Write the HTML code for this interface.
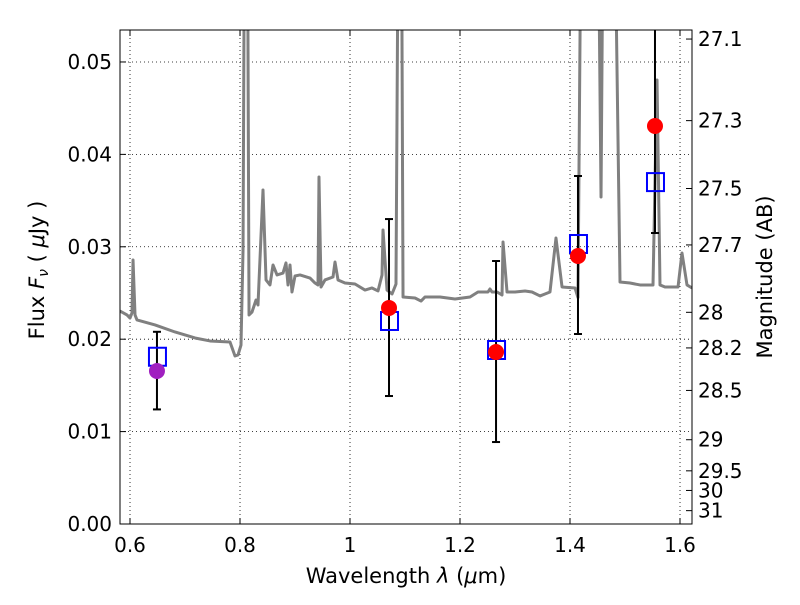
<!DOCTYPE html>
<html><head><meta charset="utf-8"><style>
body{margin:0;background:#fff;}
svg{font-family:"DejaVu Sans","Liberation Sans",sans-serif;}
</style></head><body>
<svg id="c" width="800" height="600"></svg>
<script>
const specLam=[0.5818,0.5945,0.6,0.6036,0.6055,0.6091,0.6127,0.6455,0.6818,0.7182,0.7455,0.7818,0.7909,0.7964,0.8018,0.8055,0.8091,0.8127,0.8164,0.8218,0.8291,0.8327,0.8418,0.8473,0.8545,0.86,0.8673,0.8782,0.8836,0.8873,0.8909,0.8945,0.9,0.9091,0.9273,0.9364,0.9418,0.9436,0.9473,0.9545,0.9691,0.9727,0.9782,0.9909,1.0091,1.0273,1.04,1.0509,1.0582,1.06,1.0673,1.0764,1.0836,1.0891,1.0927,1.0964,1.1182,1.1291,1.1364,1.1636,1.1909,1.2182,1.2327,1.2509,1.2545,1.2582,1.2673,1.2764,1.2782,1.2855,1.3,1.3182,1.3309,1.3455,1.3545,1.3636,1.3745,1.3855,1.4091,1.4145,1.4218,1.4491,1.4564,1.4618,1.4782,1.4909,1.5091,1.5273,1.5509,1.5582,1.5636,1.5727,1.5964,1.6036,1.6127,1.6218];
const specFlux=[0.02305,0.02262,0.02229,0.02284,0.02857,0.02262,0.02208,0.02154,0.02078,0.02013,0.01981,0.0197,0.01818,0.01829,0.01937,0.02965,0.08,0.08,0.02262,0.02294,0.02424,0.0237,0.03615,0.02641,0.02587,0.02803,0.02695,0.02716,0.02825,0.02587,0.02803,0.02511,0.02684,0.02695,0.02662,0.02608,0.02587,0.03755,0.02565,0.02641,0.02673,0.02835,0.02641,0.02608,0.02597,0.02532,0.02554,0.02522,0.02695,0.03182,0.02532,0.02489,0.02597,0.08,0.08,0.02457,0.02446,0.02413,0.02457,0.02457,0.02435,0.02457,0.02511,0.02511,0.02543,0.02511,0.02511,0.02478,0.03052,0.0251,0.02511,0.02522,0.02511,0.02468,0.02489,0.02511,0.03095,0.02565,0.02554,0.0245,0.08,0.08,0.03539,0.08,0.08,0.02619,0.02608,0.02587,0.02587,0.04805,0.02587,0.02565,0.02565,0.02933,0.02587,0.02554];
const obsLam=[0.649,1.0709,1.2655,1.4145,1.5545];
const obsFlux=[0.01656,0.02338,0.01861,0.0290,0.04307];
const errHi=[0.0208,0.0330,0.02846,0.03766,0.0545];
const errLo=[0.0124,0.01385,0.00887,0.02056,0.03149];
const modFlux=[0.0181,0.02197,0.01883,0.0303,0.0370];
const obsColor=['#a020c0','red','red','red','red'];
const xTicks=[0.6,0.8,1.0,1.2,1.4,1.6];
const xTickLabels=['0.6','0.8','1','1.2','1.4','1.6'];
const yTicks=[0,0.01,0.02,0.03,0.04,0.05];
const yTickLabels=['0.00','0.01','0.02','0.03','0.04','0.05'];
const magTicks=[27.1,27.3,27.5,27.7,28,28.2,28.5,29,29.5,30,31];
const magLabels=['27.1','27.3','27.5','27.7','28','28.2','28.5','29','29.5','30','31'];

const L=120,R=692,T=30,B=524,x0=0.5818,x1=1.6218,y0=0,y1=0.05346;
const X=v=>L+(v-x0)/(x1-x0)*(R-L);
const Y=v=>B-(v-y0)/(y1-y0)*(B-T);
const svg=document.getElementById('c');const NS='http://www.w3.org/2000/svg';
function mk(t,a,p){const e=document.createElementNS(NS,t);for(const k in a)e.setAttribute(k,a[k]);(p||svg).appendChild(e);return e;}
const defs=mk('defs',{});const cp=mk('clipPath',{id:'pc'},defs);mk('rect',{x:L,y:T,width:R-L,height:B-T},cp);
xTicks.forEach((v,i)=>{const g=mk('line',{x1:X(v),x2:X(v),y1:T,y2:B,stroke:'#000','stroke-width':0.8,'stroke-dasharray':'1,3'});

mk('line',{x1:X(v),x2:X(v),y1:B,y2:B-6,stroke:'#000'});mk('line',{x1:X(v),x2:X(v),y1:T,y2:T+6,stroke:'#000'});
const t=mk('text',{x:X(v),y:B+28,'text-anchor':'middle','font-size':20});t.textContent=xTickLabels[i];
});
yTicks.forEach((v,i)=>{const g=mk('line',{x1:L,x2:R,y1:Y(v),y2:Y(v),stroke:'#000','stroke-width':0.8,'stroke-dasharray':'1,3'});

mk('line',{x1:L,x2:L+6,y1:Y(v),y2:Y(v),stroke:'#000'});
const t=mk('text',{x:L-8,y:Y(v)+7,'text-anchor':'end','font-size':20});t.textContent=yTickLabels[i];
});
magTicks.forEach((m,i)=>{const f=Math.pow(10,(23.9-m)/2.5);const y=Y(f);
mk('line',{x1:R,x2:R-6,y1:y,y2:y,stroke:'#000'});
const t=mk('text',{x:R+6,y:y+7,'font-size':20});t.textContent=magLabels[i];
});
const g=mk('g',{'clip-path':'url(#pc)'});
const sp=mk('polyline',{points:specLam.map((l,i)=>X(l)+','+Y(specFlux[i])).join(' '),fill:'none',stroke:'#808080','stroke-width':3,'stroke-linejoin':'round'},g);

obsLam.forEach((l,i)=>{const x=X(l);
const e=mk('line',{x1:x,x2:x,y1:Y(errHi[i]),y2:Y(errLo[i]),stroke:'#000','stroke-width':2},g);

[errHi[i],errLo[i]].forEach(v=>mk('line',{x1:x-4,x2:x+4,y1:Y(v),y2:Y(v),stroke:'#000','stroke-width':2},g));
const s=mk('rect',{x:x-8,y:Y(modFlux[i])-9,width:17,height:18,fill:'none',stroke:'blue','stroke-width':2},g);

const c=mk('circle',{cx:x,cy:Y(obsFlux[i]),r:8,fill:obsColor[i]},g);
});
const fr=mk('rect',{x:L,y:T,width:R-L,height:B-T,fill:'none',stroke:'#000','stroke-width':1});

let t=mk('text',{x:406,y:583,'text-anchor':'middle','font-size':21});t.innerHTML='Wavelength  <tspan font-style="italic">λ</tspan> (<tspan font-style="italic">μ</tspan>m)';

t=mk('text',{x:44,y:270,'text-anchor':'middle','font-size':21,transform:'rotate(-90 44 270)'});t.innerHTML='Flux  <tspan font-style="italic">F</tspan><tspan font-style="italic" font-size="14" dy="4">ν</tspan><tspan dy="-4">  (  </tspan><tspan font-style="italic">μ</tspan>Jy )';

t=mk('text',{x:772,y:277,'text-anchor':'middle','font-size':21,transform:'rotate(-90 772 277)'});t.textContent='Magnitude (AB)';

</script>
</body></html>
